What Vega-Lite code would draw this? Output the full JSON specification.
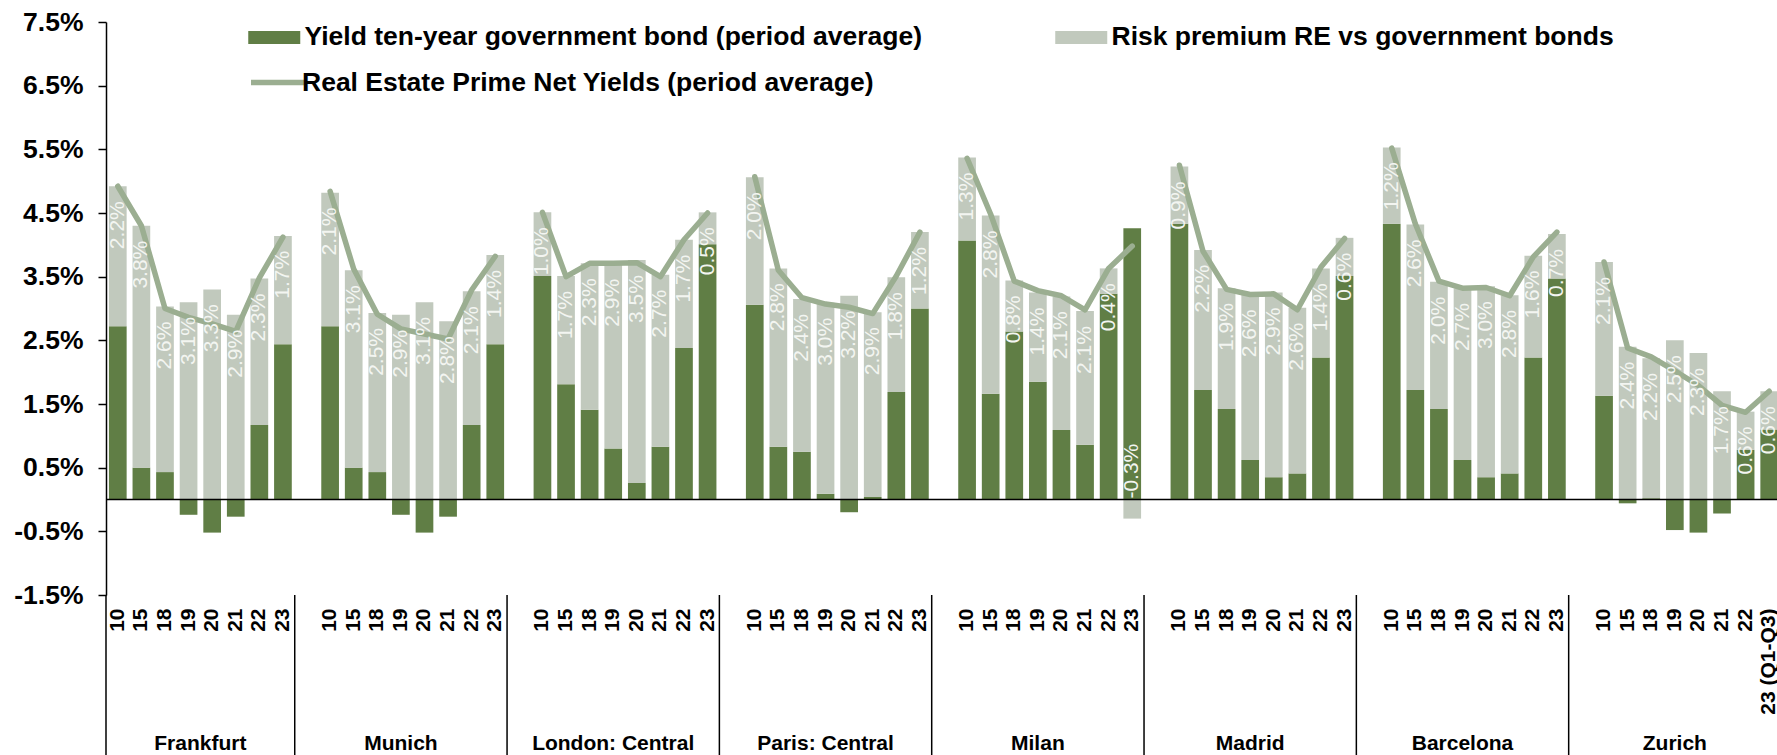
{
  "$schema": "https://vega.github.io/schema/vega-lite/v6.json",
  "width": 1671,
  "height": 573,
  "autosize": {"type": "none"},
  "padding": {"left": 106, "top": 22, "right": 0, "bottom": 160},
  "background": "white",
  "config": {
    "font": "Liberation Sans",
    "view": {"stroke": null},
    "text": {"font": "Liberation Sans"}
  },
  "datasets": {
    "yields": [
      {"city": "Frankfurt", "year": "10", "bond": 2.72, "premium": 2.2, "prime": 4.92},
      {"city": "Frankfurt", "year": "15", "bond": 0.5, "premium": 3.8, "prime": 4.3},
      {"city": "Frankfurt", "year": "18", "bond": 0.43, "premium": 2.6, "prime": 3.0},
      {"city": "Frankfurt", "year": "19", "bond": -0.24, "premium": 3.1, "prime": 2.86},
      {"city": "Frankfurt", "year": "20", "bond": -0.52, "premium": 3.3, "prime": 2.76},
      {"city": "Frankfurt", "year": "21", "bond": -0.27, "premium": 2.9, "prime": 2.64},
      {"city": "Frankfurt", "year": "22", "bond": 1.17, "premium": 2.3, "prime": 3.48},
      {"city": "Frankfurt", "year": "23", "bond": 2.44, "premium": 1.7, "prime": 4.12},
      {"city": "Munich", "year": "10", "bond": 2.72, "premium": 2.1, "prime": 4.84},
      {"city": "Munich", "year": "15", "bond": 0.5, "premium": 3.1, "prime": 3.62},
      {"city": "Munich", "year": "18", "bond": 0.43, "premium": 2.5, "prime": 2.91},
      {"city": "Munich", "year": "19", "bond": -0.24, "premium": 2.9, "prime": 2.68},
      {"city": "Munich", "year": "20", "bond": -0.52, "premium": 3.1, "prime": 2.6},
      {"city": "Munich", "year": "21", "bond": -0.27, "premium": 2.8, "prime": 2.52},
      {"city": "Munich", "year": "22", "bond": 1.17, "premium": 2.1, "prime": 3.29},
      {"city": "Munich", "year": "23", "bond": 2.44, "premium": 1.4, "prime": 3.82},
      {"city": "London: Central", "year": "10", "bond": 3.51, "premium": 1.0, "prime": 4.51},
      {"city": "London: Central", "year": "15", "bond": 1.81, "premium": 1.7, "prime": 3.5},
      {"city": "London: Central", "year": "18", "bond": 1.41, "premium": 2.3, "prime": 3.71},
      {"city": "London: Central", "year": "19", "bond": 0.8, "premium": 2.9, "prime": 3.71},
      {"city": "London: Central", "year": "20", "bond": 0.26, "premium": 3.5, "prime": 3.72},
      {"city": "London: Central", "year": "21", "bond": 0.83, "premium": 2.7, "prime": 3.5},
      {"city": "London: Central", "year": "22", "bond": 2.38, "premium": 1.7, "prime": 4.08},
      {"city": "London: Central", "year": "23", "bond": 4.01, "premium": 0.5, "prime": 4.5},
      {"city": "Paris: Central", "year": "10", "bond": 3.06, "premium": 2.0, "prime": 5.07},
      {"city": "Paris: Central", "year": "15", "bond": 0.83, "premium": 2.8, "prime": 3.6},
      {"city": "Paris: Central", "year": "18", "bond": 0.75, "premium": 2.4, "prime": 3.17},
      {"city": "Paris: Central", "year": "19", "bond": 0.09, "premium": 3.0, "prime": 3.07},
      {"city": "Paris: Central", "year": "20", "bond": -0.2, "premium": 3.2, "prime": 3.02},
      {"city": "Paris: Central", "year": "21", "bond": 0.04, "premium": 2.9, "prime": 2.92},
      {"city": "Paris: Central", "year": "22", "bond": 1.69, "premium": 1.8, "prime": 3.51},
      {"city": "Paris: Central", "year": "23", "bond": 3.0, "premium": 1.2, "prime": 4.2},
      {"city": "Milan", "year": "10", "bond": 4.07, "premium": 1.3, "prime": 5.36},
      {"city": "Milan", "year": "15", "bond": 1.66, "premium": 2.8, "prime": 4.48},
      {"city": "Milan", "year": "18", "bond": 2.64, "premium": 0.8, "prime": 3.43},
      {"city": "Milan", "year": "19", "bond": 1.85, "premium": 1.4, "prime": 3.28},
      {"city": "Milan", "year": "20", "bond": 1.09, "premium": 2.1, "prime": 3.2},
      {"city": "Milan", "year": "21", "bond": 0.86, "premium": 2.1, "prime": 2.98},
      {"city": "Milan", "year": "22", "bond": 3.23, "premium": 0.4, "prime": 3.63},
      {"city": "Milan", "year": "23", "bond": 4.26, "premium": -0.3, "prime": 3.98},
      {"city": "Madrid", "year": "10", "bond": 4.33, "premium": 0.9, "prime": 5.25},
      {"city": "Madrid", "year": "15", "bond": 1.72, "premium": 2.2, "prime": 3.9},
      {"city": "Madrid", "year": "18", "bond": 1.42, "premium": 1.9, "prime": 3.3},
      {"city": "Madrid", "year": "19", "bond": 0.62, "premium": 2.6, "prime": 3.22},
      {"city": "Madrid", "year": "20", "bond": 0.35, "premium": 2.9, "prime": 3.23},
      {"city": "Madrid", "year": "21", "bond": 0.41, "premium": 2.6, "prime": 2.98},
      {"city": "Madrid", "year": "22", "bond": 2.23, "premium": 1.4, "prime": 3.65},
      {"city": "Madrid", "year": "23", "bond": 3.51, "premium": 0.6, "prime": 4.1},
      {"city": "Barcelona", "year": "10", "bond": 4.33, "premium": 1.2, "prime": 5.52},
      {"city": "Barcelona", "year": "15", "bond": 1.72, "premium": 2.6, "prime": 4.33},
      {"city": "Barcelona", "year": "18", "bond": 1.42, "premium": 2.0, "prime": 3.43},
      {"city": "Barcelona", "year": "19", "bond": 0.62, "premium": 2.7, "prime": 3.32},
      {"city": "Barcelona", "year": "20", "bond": 0.35, "premium": 3.0, "prime": 3.33},
      {"city": "Barcelona", "year": "21", "bond": 0.41, "premium": 2.8, "prime": 3.2},
      {"city": "Barcelona", "year": "22", "bond": 2.23, "premium": 1.6, "prime": 3.81},
      {"city": "Barcelona", "year": "23", "bond": 3.47, "premium": 0.7, "prime": 4.2},
      {"city": "Zurich", "year": "10", "bond": 1.63, "premium": 2.1, "prime": 3.73},
      {"city": "Zurich", "year": "15", "bond": -0.06, "premium": 2.4, "prime": 2.38},
      {"city": "Zurich", "year": "18", "bond": 0.02, "premium": 2.2, "prime": 2.24},
      {"city": "Zurich", "year": "19", "bond": -0.48, "premium": 2.5, "prime": 2.02},
      {"city": "Zurich", "year": "20", "bond": -0.52, "premium": 2.3, "prime": 1.79},
      {"city": "Zurich", "year": "21", "bond": -0.22, "premium": 1.7, "prime": 1.48},
      {"city": "Zurich", "year": "22", "bond": 0.78, "premium": 0.6, "prime": 1.37},
      {"city": "Zurich", "year": "23 (Q1-Q3)", "bond": 1.1, "premium": 0.6, "prime": 1.7}
    ],
    "separators": [
      {"key": "Frankfurt|10"},
      {"key": "gap|Munich"},
      {"key": "gap|London: Central"},
      {"key": "gap|Paris: Central"},
      {"key": "gap|Milan"},
      {"key": "gap|Madrid"},
      {"key": "gap|Barcelona"},
      {"key": "gap|Zurich"}
    ],
    "cities": [
      {"city": "Frankfurt"},
      {"city": "Munich"},
      {"city": "London: Central"},
      {"city": "Paris: Central"},
      {"city": "Milan"},
      {"city": "Madrid"},
      {"city": "Barcelona"},
      {"city": "Zurich"}
    ]
  },
  "layer": [
    {
      "data": {"name": "yields"},
      "transform": [
        {"calculate": "datum.city + '|' + datum.year", "as": "key"},
        {"fold": ["bond", "premium"], "as": ["series", "val"]},
        {"calculate": "datum.series == 'bond' ? 0 : 1", "as": "stackOrder"}
      ],
      "mark": {"type": "bar"},
      "encoding": {
        "x": {
          "field": "key",
          "type": "nominal",
          "sort": null,
          "scale": {
            "domain": [
              "Frankfurt|10", "Frankfurt|15", "Frankfurt|18", "Frankfurt|19", "Frankfurt|20", "Frankfurt|21", "Frankfurt|22", "Frankfurt|23",
              "gap|Munich", "Munich|10", "Munich|15", "Munich|18", "Munich|19", "Munich|20", "Munich|21", "Munich|22", "Munich|23",
              "gap|London: Central", "London: Central|10", "London: Central|15", "London: Central|18", "London: Central|19", "London: Central|20", "London: Central|21", "London: Central|22", "London: Central|23",
              "gap|Paris: Central", "Paris: Central|10", "Paris: Central|15", "Paris: Central|18", "Paris: Central|19", "Paris: Central|20", "Paris: Central|21", "Paris: Central|22", "Paris: Central|23",
              "gap|Milan", "Milan|10", "Milan|15", "Milan|18", "Milan|19", "Milan|20", "Milan|21", "Milan|22", "Milan|23",
              "gap|Madrid", "Madrid|10", "Madrid|15", "Madrid|18", "Madrid|19", "Madrid|20", "Madrid|21", "Madrid|22", "Madrid|23",
              "gap|Barcelona", "Barcelona|10", "Barcelona|15", "Barcelona|18", "Barcelona|19", "Barcelona|20", "Barcelona|21", "Barcelona|22", "Barcelona|23",
              "gap|Zurich", "Zurich|10", "Zurich|15", "Zurich|18", "Zurich|19", "Zurich|20", "Zurich|21", "Zurich|22", "Zurich|23 (Q1-Q3)"
            ],
            "range": [0, 1675],
            "paddingInner": 0.25,
            "paddingOuter": 0.125
          },
          "axis": {
            "title": null,
            "domain": false,
            "ticks": false,
            "labelAngle": 270,
            "labelFont": "Liberation Sans",
            "labelFontSize": 21,
            "labelFontWeight": "bold",
            "labelColor": "black",
            "labelPadding": 13,
            "labelOverlap": false,
            "labelBound": false,
            "labelLimit": 300,
            "labelExpr": "indexof(datum.value, 'gap|') == 0 ? '' : slice(datum.value, indexof(datum.value, '|') + 1)"
          }
        },
        "y": {
          "field": "val",
          "type": "quantitative",
          "stack": "zero",
          "scale": {"domain": [-1.5, 7.5], "nice": false, "zero": false},
          "axis": {
            "title": null,
            "grid": false,
            "values": [-1.5, -0.5, 0.5, 1.5, 2.5, 3.5, 4.5, 5.5, 6.5, 7.5],
            "labelExpr": "(datum.value < 0 ? '-' : '') + format(abs(datum.value), '.1f') + '%'",
            "domainColor": "black",
            "domainWidth": 1.5,
            "tickColor": "black",
            "tickWidth": 1.5,
            "tickSize": 8,
            "labelFont": "Liberation Sans",
            "labelFontSize": 26.5,
            "labelFontWeight": "bold",
            "labelColor": "black",
            "labelPadding": 15
          }
        },
        "order": {"field": "stackOrder", "type": "quantitative", "sort": "ascending"},
        "color": {
          "field": "series",
          "type": "nominal",
          "scale": {"domain": ["bond", "premium"], "range": ["#607e45", "#c1c9bd"]},
          "legend": {
            "title": null,
            "orient": "none",
            "legendX": 142,
            "legendY": 2,
            "direction": "horizontal",
            "columns": 2,
            "columnPadding": 133,
            "padding": 0,
            "symbolType": "M-1,-0.5H3V0.5H-1Z",
            "symbolSize": 676,
            "symbolStrokeWidth": 0,
            "labelOffset": 30,
            "labelFont": "Liberation Sans",
            "labelFontSize": 26.5,
            "labelFontWeight": "bold",
            "labelColor": "black",
            "labelLimit": 1000,
            "labelExpr": "datum.value == 'bond' ? 'Yield ten-year government bond (period average)' : 'Risk premium RE vs government bonds'"
          }
        }
      }
    },
    {
      "data": {"values": [{}]},
      "mark": {"type": "rule", "color": "black", "strokeWidth": 1.5},
      "encoding": {"y": {"datum": 0}}
    },
    {
      "data": {"name": "separators"},
      "mark": {"type": "rule", "color": "black", "strokeWidth": 1.5, "clip": false},
      "encoding": {
        "x": {"field": "key", "type": "nominal", "bandPosition": -0.1667},
        "y": {"datum": -1.5},
        "y2": {"datum": -4.2}
      }
    },
    {
      "data": {"name": "yields"},
      "transform": [{"calculate": "datum.city + '|' + datum.year", "as": "key"}],
      "mark": {"type": "line", "strokeWidth": 5.5, "strokeCap": "round", "strokeJoin": "round"},
      "encoding": {
        "x": {"field": "key", "type": "nominal", "bandPosition": 0.5},
        "y": {"field": "prime", "type": "quantitative"},
        "detail": {"field": "city"},
        "stroke": {
          "datum": "Real Estate Prime Net Yields (period average)",
          "scale": {"range": ["#9bae91"]},
          "legend": {
            "title": null,
            "orient": "none",
            "legendX": 142,
            "legendY": 31,
            "padding": 0,
            "symbolType": "stroke",
            "symbolSize": 2809,
            "symbolStrokeWidth": 5.5,
            "labelOffset": -5,
            "labelFont": "Liberation Sans",
            "labelFontSize": 26.5,
            "labelFontWeight": "bold",
            "labelColor": "black",
            "labelLimit": 1000
          }
        }
      }
    },
    {
      "data": {"name": "yields"},
      "transform": [
        {"calculate": "datum.city + '|' + datum.year", "as": "key"},
        {"filter": "datum.premium >= 0"},
        {"calculate": "max(datum.bond, 0) + datum.premium", "as": "anchor"},
        {"calculate": "format(datum.premium, '.1f') + '%'", "as": "lbl"}
      ],
      "mark": {"type": "text", "angle": 270, "align": "right", "baseline": "middle", "yOffset": 15, "fontSize": 21, "color": "#f3f5f1"},
      "encoding": {
        "x": {"field": "key", "type": "nominal", "bandPosition": 0.5},
        "y": {"field": "anchor", "type": "quantitative"},
        "text": {"field": "lbl"}
      }
    },
    {
      "data": {"name": "yields"},
      "transform": [
        {"calculate": "datum.city + '|' + datum.year", "as": "key"},
        {"filter": "datum.premium < 0"},
        {"calculate": "min(datum.bond, 0) + datum.premium", "as": "anchor"},
        {"calculate": "'-' + format(abs(datum.premium), '.1f') + '%'", "as": "lbl"}
      ],
      "mark": {"type": "text", "angle": 270, "align": "left", "baseline": "middle", "yOffset": -20, "fontSize": 21, "color": "#f3f5f1"},
      "encoding": {
        "x": {"field": "key", "type": "nominal", "bandPosition": 0.5},
        "y": {"field": "anchor", "type": "quantitative"},
        "text": {"field": "lbl"}
      }
    },
    {
      "data": {"name": "cities"},
      "transform": [
        {"filter": "datum.city == 'Frankfurt'"},
        {"calculate": "datum.city + '|19'", "as": "key"}
      ],
      "mark": {"type": "text", "align": "center", "baseline": "alphabetic", "fontSize": 21, "fontWeight": "bold", "color": "black"},
      "encoding": {
        "x": {"field": "key", "type": "nominal", "bandPosition": 1.1667},
        "y": {"datum": -3.93},
        "text": {"field": "city"}
      }
    },
    {
      "data": {"name": "cities"},
      "transform": [
        {"filter": "datum.city != 'Frankfurt'"},
        {"calculate": "datum.city + '|19'", "as": "key"}
      ],
      "mark": {"type": "text", "align": "center", "baseline": "alphabetic", "fontSize": 21, "fontWeight": "bold", "color": "black"},
      "encoding": {
        "x": {"field": "key", "type": "nominal", "bandPosition": 0.5},
        "y": {"datum": -3.93},
        "text": {"field": "city"}
      }
    }
  ]
}
